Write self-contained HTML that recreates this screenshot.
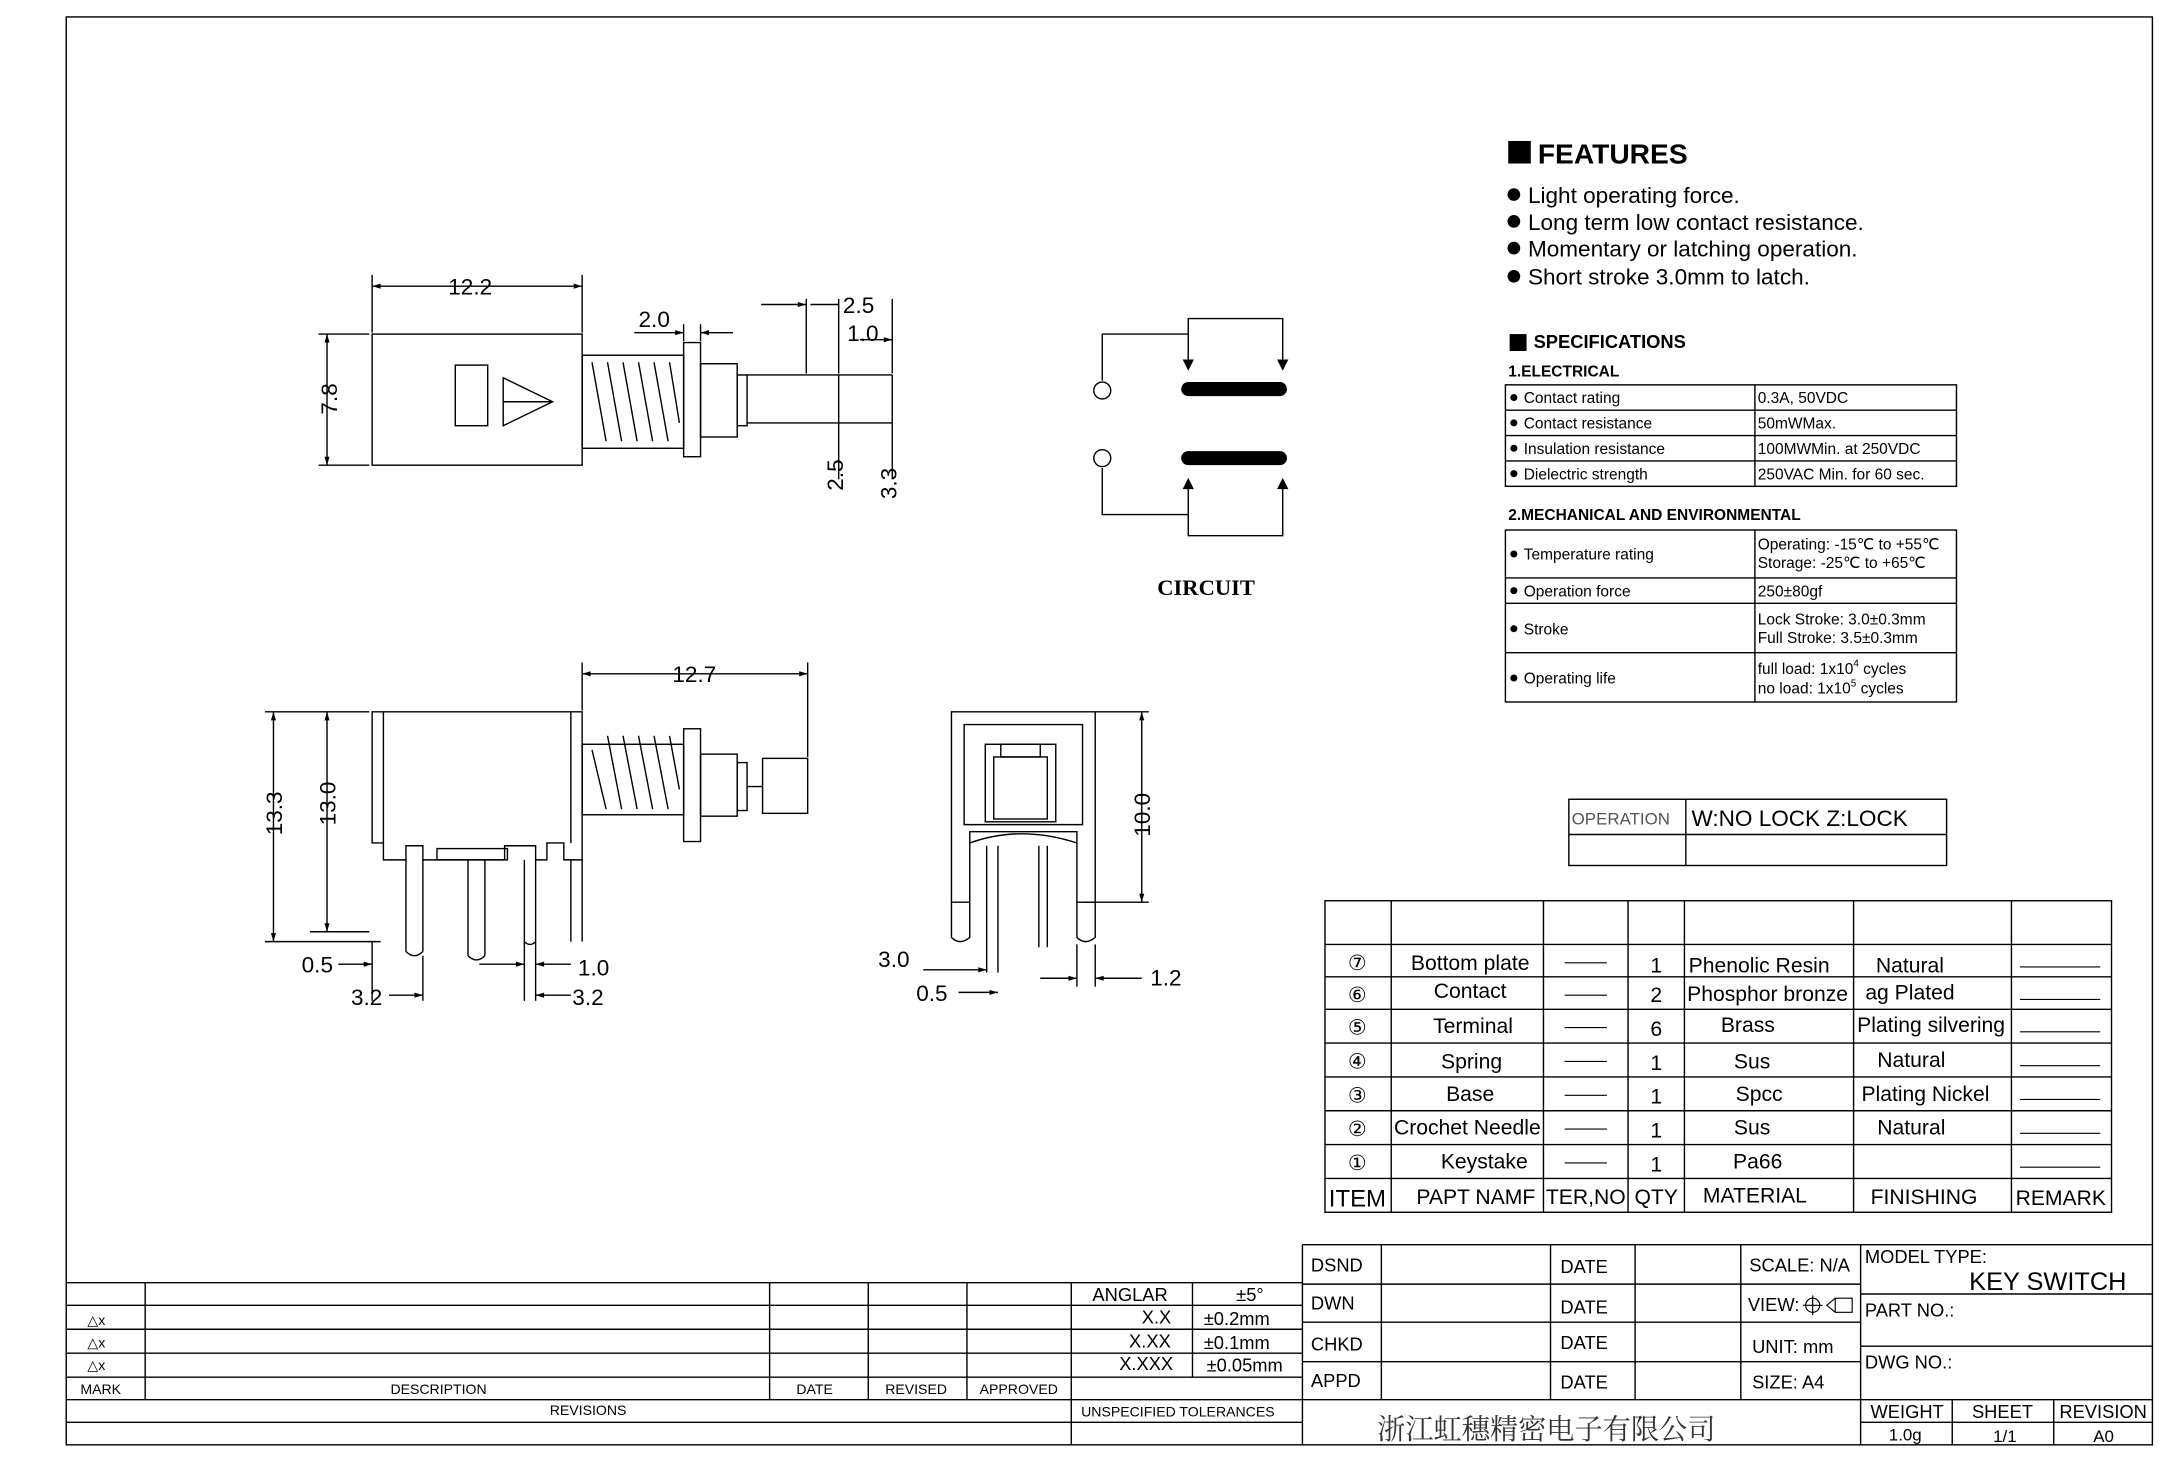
<!DOCTYPE html>
<html><head><meta charset="utf-8"><style>
html,body{margin:0;padding:0;background:#fff;}
svg{display:block;}
text{font-family:"Liberation Sans",sans-serif;fill:#000;}
</style></head><body>
<svg width="2182" height="1466" viewBox="0 0 1548 1040" xmlns="http://www.w3.org/2000/svg">
<defs>
<marker id="a" viewBox="0 0 10 10" refX="10" refY="5" markerWidth="8" markerHeight="6" orient="auto-start-reverse"><path d="M0,2 L10,5 L0,8z" fill="#000"/></marker>
</defs>
<rect x="0" y="0" width="1548" height="1040" fill="#fff"/>
<rect x="47" y="12" width="1480" height="1013" fill="none" stroke="#000" stroke-width="1"/>

<!-- FEATURES -->
<rect x="1070" y="100" width="16" height="16" fill="#000"/>
<text x="1091" y="116" font-size="20" font-weight="bold">FEATURES</text>
<g font-size="16">
<circle cx="1074" cy="138" r="4.5"/><text x="1084" y="144">Light operating force.</text>
<circle cx="1074" cy="157" r="4.5"/><text x="1084" y="163">Long term low contact resistance.</text>
<circle cx="1074" cy="176" r="4.5"/><text x="1084" y="182">Momentary or latching operation.</text>
<circle cx="1074" cy="196" r="4.5"/><text x="1084" y="202">Short stroke 3.0mm to latch.</text>
</g>
<rect x="1071" y="237" width="12" height="12" fill="#000"/>
<text x="1088" y="247" font-size="13" font-weight="bold">SPECIFICATIONS</text>
<text x="1070" y="267" font-size="11" font-weight="bold">1.ELECTRICAL</text>
<g fill="none" stroke="#000" stroke-width="1">
<rect x="1068" y="273" width="320" height="72"/>
<line x1="1068" y1="291" x2="1388" y2="291"/><line x1="1068" y1="309" x2="1388" y2="309"/><line x1="1068" y1="327" x2="1388" y2="327"/>
<line x1="1245" y1="273" x2="1245" y2="345"/>
<rect x="1068" y="376" width="320" height="122"/>
<line x1="1068" y1="410" x2="1388" y2="410"/><line x1="1068" y1="428" x2="1388" y2="428"/><line x1="1068" y1="463" x2="1388" y2="463"/>
<line x1="1245" y1="376" x2="1245" y2="498"/>
</g>
<g font-size="11">
<circle cx="1074" cy="282" r="2.5"/><text x="1081" y="286">Contact rating</text><text x="1247" y="286">0.3A, 50VDC</text>
<circle cx="1074" cy="300" r="2.5"/><text x="1081" y="304">Contact resistance</text><text x="1247" y="304">50mWMax.</text>
<circle cx="1074" cy="318" r="2.5"/><text x="1081" y="322">Insulation resistance</text><text x="1247" y="322">100MWMin. at 250VDC</text>
<circle cx="1074" cy="336" r="2.5"/><text x="1081" y="340">Dielectric strength</text><text x="1247" y="340">250VAC Min. for 60 sec.</text>
</g>
<text x="1070" y="369" font-size="11" font-weight="bold">2.MECHANICAL AND ENVIRONMENTAL</text>
<g font-size="11">
<circle cx="1074" cy="393" r="2.5"/><text x="1081" y="397">Temperature rating</text>
<text x="1247" y="390">Operating: -15℃ to +55℃</text><text x="1247" y="403">Storage: -25℃ to +65℃</text>
<circle cx="1074" cy="419" r="2.5"/><text x="1081" y="423">Operation force</text><text x="1247" y="423">250±80gf</text>
<circle cx="1074" cy="446" r="2.5"/><text x="1081" y="450">Stroke</text>
<text x="1247" y="443">Lock Stroke: 3.0±0.3mm</text><text x="1247" y="456">Full Stroke: 3.5±0.3mm</text>
<circle cx="1074" cy="481" r="2.5"/><text x="1081" y="485">Operating life</text>
<text x="1247" y="478">full load: 1x10<tspan font-size="7" dy="-5">4</tspan><tspan dy="5"> cycles</tspan></text>
<text x="1247" y="492">no load: 1x10<tspan font-size="7" dy="-5">5</tspan><tspan dy="5"> cycles</tspan></text>
</g>

<!-- operation -->
<g fill="none" stroke="#000" stroke-width="1">
<rect x="1113" y="567" width="268" height="47"/>
<line x1="1196" y1="567" x2="1196" y2="614"/><line x1="1113" y1="592" x2="1381" y2="592"/>
</g>
<text x="1115" y="585" font-size="12" fill="#555" style="fill:#555">OPERATION</text>
<text x="1200" y="586" font-size="16">W:NO LOCK Z:LOCK</text>

<!-- parts table -->
<g fill="none" stroke="#000" stroke-width="1">
<rect x="940" y="639" width="558" height="221"/>
<line x1="940" y1="670" x2="1498" y2="670"/><line x1="940" y1="693" x2="1498" y2="693"/><line x1="940" y1="716" x2="1498" y2="716"/>
<line x1="940" y1="740" x2="1498" y2="740"/><line x1="940" y1="764" x2="1498" y2="764"/><line x1="940" y1="788" x2="1498" y2="788"/>
<line x1="940" y1="812" x2="1498" y2="812"/><line x1="940" y1="836" x2="1498" y2="836"/>
<line x1="987" y1="639" x2="987" y2="860"/><line x1="1095" y1="639" x2="1095" y2="860"/><line x1="1155" y1="639" x2="1155" y2="860"/>
<line x1="1195" y1="639" x2="1195" y2="860"/><line x1="1315" y1="639" x2="1315" y2="860"/><line x1="1427" y1="639" x2="1427" y2="860"/>
</g>
<g font-size="15" text-anchor="middle">
<text x="963" y="688">⑦</text><text x="1043" y="688">Bottom plate</text><text x="1175" y="690">1</text><text x="1248" y="690">Phenolic Resin</text><text x="1355" y="690">Natural</text>
<text x="963" y="711">⑥</text><text x="1043" y="708">Contact</text><text x="1175" y="711">2</text><text x="1254" y="710">Phosphor bronze</text><text x="1355" y="709">ag Plated</text>
<text x="963" y="734">⑤</text><text x="1045" y="733">Terminal</text><text x="1175" y="735">6</text><text x="1240" y="732">Brass</text><text x="1370" y="732">Plating silvering</text>
<text x="963" y="758">④</text><text x="1044" y="758">Spring</text><text x="1175" y="759">1</text><text x="1243" y="758">Sus</text><text x="1356" y="757">Natural</text>
<text x="963" y="782">③</text><text x="1043" y="781">Base</text><text x="1175" y="783">1</text><text x="1248" y="781">Spcc</text><text x="1366" y="781">Plating Nickel</text>
<text x="963" y="806">②</text><text x="1041" y="805">Crochet Needle</text><text x="1175" y="807">1</text><text x="1243" y="805">Sus</text><text x="1356" y="805">Natural</text>
<text x="963" y="830">①</text><text x="1053" y="829">Keystake</text><text x="1175" y="831">1</text><text x="1247" y="829">Pa66</text>
<text x="963" y="856" font-size="17">ITEM</text><text x="1047" y="854">PAPT NAMF</text><text x="1125" y="854">TER,NO</text><text x="1175" y="854">QTY</text><text x="1245" y="853">MATERIAL</text><text x="1365" y="854">FINISHING</text><text x="1462" y="855">REMARK</text>
</g>
<g stroke="#000" stroke-width="0.8">
<line x1="1110" y1="683" x2="1140" y2="683"/><line x1="1110" y1="706" x2="1140" y2="706"/><line x1="1110" y1="729" x2="1140" y2="729"/><line x1="1110" y1="753" x2="1140" y2="753"/><line x1="1110" y1="777" x2="1140" y2="777"/><line x1="1110" y1="801" x2="1140" y2="801"/><line x1="1110" y1="825" x2="1140" y2="825"/>
<line x1="1433" y1="686" x2="1490" y2="686"/><line x1="1433" y1="709" x2="1490" y2="709"/><line x1="1433" y1="732" x2="1490" y2="732"/><line x1="1433" y1="756" x2="1490" y2="756"/><line x1="1433" y1="780" x2="1490" y2="780"/><line x1="1433" y1="804" x2="1490" y2="804"/><line x1="1433" y1="828" x2="1490" y2="828"/>
</g>

<!-- revisions block -->
<g fill="none" stroke="#000" stroke-width="1">
<line x1="47" y1="910" x2="924" y2="910"/><line x1="47" y1="926" x2="924" y2="926"/><line x1="47" y1="943" x2="924" y2="943"/>
<line x1="47" y1="960" x2="924" y2="960"/><line x1="47" y1="977" x2="924" y2="977"/><line x1="47" y1="993" x2="924" y2="993"/><line x1="47" y1="1009" x2="924" y2="1009"/>
<line x1="103" y1="910" x2="103" y2="993"/><line x1="546" y1="910" x2="546" y2="993"/><line x1="616" y1="910" x2="616" y2="993"/>
<line x1="686" y1="910" x2="686" y2="993"/><line x1="760" y1="910" x2="760" y2="1025"/><line x1="846" y1="910" x2="846" y2="977"/>
<line x1="924" y1="883" x2="924" y2="1025"/>
</g>
<g font-size="10">
<text x="62" y="940">△x</text><text x="62" y="956">△x</text><text x="62" y="972">△x</text>
<text x="57" y="989">MARK</text><text x="277" y="989">DESCRIPTION</text><text x="565" y="989">DATE</text><text x="628" y="989">REVISED</text><text x="695" y="989">APPROVED</text>
<text x="390" y="1004">REVISIONS</text><text x="767" y="1005">UNSPECIFIED TOLERANCES</text>
</g>
<g font-size="13">
<text x="775" y="923">ANGLAR</text><text x="877" y="923">±5°</text>
<text x="810" y="939">X.X</text><text x="854" y="940">±0.2mm</text>
<text x="801" y="956">X.XX</text><text x="854" y="957">±0.1mm</text>
<text x="794" y="972">X.XXX</text><text x="856" y="973">±0.05mm</text>
</g>

<!-- title block -->
<g fill="none" stroke="#000" stroke-width="1">
<line x1="924" y1="883" x2="1527" y2="883"/><line x1="924" y1="911" x2="1320" y2="911"/><line x1="924" y1="938" x2="1320" y2="938"/>
<line x1="924" y1="966" x2="1320" y2="966"/><line x1="924" y1="993" x2="1527" y2="993"/>
<line x1="1320" y1="918" x2="1527" y2="918"/><line x1="1320" y1="955" x2="1527" y2="955"/><line x1="1320" y1="1009" x2="1527" y2="1009"/>
<line x1="980" y1="883" x2="980" y2="993"/><line x1="1100" y1="883" x2="1100" y2="993"/><line x1="1160" y1="883" x2="1160" y2="993"/>
<line x1="1235" y1="883" x2="1235" y2="993"/><line x1="1320" y1="883" x2="1320" y2="1025"/>
<line x1="1385" y1="993" x2="1385" y2="1025"/><line x1="1457" y1="993" x2="1457" y2="1025"/>
</g>
<g font-size="13">
<text x="930" y="902">DSND</text><text x="1107" y="903">DATE</text><text x="1241" y="902">SCALE: N/A</text>
<text x="930" y="929">DWN</text><text x="1107" y="932">DATE</text><text x="1240" y="930">VIEW:</text>
<text x="930" y="958">CHKD</text><text x="1107" y="957">DATE</text><text x="1243" y="960">UNIT: mm</text>
<text x="930" y="984">APPD</text><text x="1107" y="985">DATE</text><text x="1243" y="985">SIZE: A4</text>
<text x="1323" y="896">MODEL TYPE:</text><text x="1397" y="915" font-size="18">KEY SWITCH</text>
<text x="1323" y="934">PART NO.:</text><text x="1323" y="971">DWG NO.:</text>
<text x="1327" y="1006">WEIGHT</text><text x="1399" y="1006">SHEET</text><text x="1461" y="1006">REVISION</text>
<text x="1340" y="1022" font-size="12">1.0g</text><text x="1414" y="1023" font-size="12">1/1</text><text x="1485" y="1023" font-size="12">A0</text>
</g>
<text x="977" y="1021" font-size="20" style="font-family:'Liberation Sans','Noto Serif CJK SC','Noto Sans CJK SC',serif;fill:#333">浙江虹穗精密电子有限公司</text>
<g fill="none" stroke="#000" stroke-width="0.8">
<circle cx="1286" cy="926" r="5"/><line x1="1279" y1="926" x2="1293" y2="926"/><line x1="1286" y1="919" x2="1286" y2="933"/>
<path d="M1296,926 l6,-5 h12 v10 h-12z"/><line x1="1302" y1="921" x2="1302" y2="931"/>
</g>

<!-- top view drawing -->
<g fill="none" stroke="#000" stroke-width="1">
<rect x="264" y="237" width="149" height="93"/>
<rect x="323" y="259" width="23" height="43"/>
<path d="M357,268 L392,285 L357,302z M357,285 L392,285"/>
<rect x="413" y="252" width="72" height="66"/>
<path d="M420,257 L430,313 M431,257 L441,313 M442,257 L452,313 M453,257 L463,313 M464,257 L474,313 M475,257 L482,300"/>
<rect x="485" y="243" width="12" height="81"/>
<rect x="497" y="258" width="26" height="52"/>
<rect x="523" y="266" width="7" height="36"/>
<line x1="530" y1="266" x2="633" y2="266"/><line x1="530" y1="300" x2="633" y2="300"/>
<line x1="264" y1="195" x2="264" y2="236"/><line x1="413" y1="195" x2="413" y2="236"/>
<line x1="264" y1="203" x2="413" y2="203" marker-start="url(#a)" marker-end="url(#a)"/>
<line x1="226" y1="237" x2="262" y2="237"/><line x1="226" y1="330" x2="262" y2="330"/>
<line x1="232" y1="237" x2="232" y2="330" marker-start="url(#a)" marker-end="url(#a)"/>
<line x1="485" y1="230" x2="485" y2="242"/><line x1="497" y1="230" x2="497" y2="242"/>
<line x1="450" y1="236" x2="485" y2="236" marker-end="url(#a)"/><line x1="520" y1="236" x2="497" y2="236" marker-end="url(#a)"/>
<line x1="572" y1="212" x2="572" y2="265"/><line x1="595" y1="212" x2="595" y2="265"/><line x1="633" y1="212" x2="633" y2="265"/>
<line x1="540" y1="216" x2="572" y2="216" marker-end="url(#a)"/><line x1="595" y1="216" x2="575" y2="216"/>
<line x1="610" y1="241" x2="633" y2="241" marker-end="url(#a)"/>
<line x1="595" y1="300" x2="595" y2="340"/><line x1="633" y1="300" x2="633" y2="340"/>
<path d="M595,300 V266 M633,300 V266" stroke-dasharray="0"/>
</g>
<text x="318" y="209" font-size="16">12.2</text>
<text x="453" y="232" font-size="16">2.0</text>
<text x="598" y="222" font-size="16">2.5</text>
<text x="601" y="242" font-size="16">1.0</text>
<text transform="translate(239,283) rotate(-90)" font-size="16" text-anchor="middle">7.8</text>
<text transform="translate(598,337) rotate(-90)" font-size="16" text-anchor="middle">2.5</text>
<text transform="translate(636,343) rotate(-90)" font-size="16" text-anchor="middle">3.3</text>

<!-- circuit -->
<g fill="none" stroke="#000" stroke-width="1">
<circle cx="782" cy="277" r="6"/><circle cx="782" cy="325" r="6"/>
<path d="M782,270 V237 H843"/><path d="M843,260 V226 H910 V260"/>
<path d="M782,332 V365 H843"/><path d="M843,342 V380 H910 V342"/>
</g>
<line x1="843" y1="276" x2="908" y2="276" stroke="#000" stroke-width="10" stroke-linecap="round"/>
<line x1="843" y1="325" x2="908" y2="325" stroke="#000" stroke-width="10" stroke-linecap="round"/>
<g fill="#000"><path d="M839,255 h8 l-4,8z"/><path d="M906,255 h8 l-4,8z"/><path d="M839,347 h8 l-4,-8z"/><path d="M906,347 h8 l-4,-8z"/></g>
<text x="821" y="422" font-size="16" font-weight="bold" style="font-family:'Liberation Serif',serif">CIRCUIT</text>

<!-- front view -->
<g fill="none" stroke="#000" stroke-width="1">
<path d="M264,505 H413 V610 H400 V598 H388 V610 H380 V600 H358 V610 H300 V600 H288 V610 H272 V598 H264z"/>
<line x1="272" y1="505" x2="272" y2="598"/><line x1="405" y1="505" x2="405" y2="598"/>
<rect x="310" y="602" width="50" height="8"/>
<path d="M288,610 V675 M300,610 V675 M288,675 Q294,681 300,675"/>
<path d="M332,610 V678 M344,610 V678 M332,678 Q338,684 344,678"/>
<path d="M372,610 V668 M380,610 V668 M372,668 Q376,672 380,668"/>
<path d="M405,610 V668 M413,610 V668"/>
<rect x="413" y="528" width="72" height="50"/>
<path d="M420,532 L430,574 M431,522 L441,574 M442,522 L452,574 M453,522 L463,574 M464,522 L474,574 M475,522 L482,560"/>
<rect x="485" y="517" width="12" height="80"/>
<rect x="497" y="535" width="26" height="44"/>
<rect x="523" y="541" width="7" height="34"/>
<rect x="541" y="538" width="32" height="39"/>
<line x1="530" y1="558" x2="541" y2="558"/>
<line x1="413" y1="470" x2="413" y2="504"/><line x1="573" y1="470" x2="573" y2="537"/>
<line x1="413" y1="478" x2="573" y2="478" marker-start="url(#a)" marker-end="url(#a)"/>
<line x1="188" y1="505" x2="262" y2="505"/><line x1="188" y1="668" x2="270" y2="668"/><line x1="220" y1="661" x2="262" y2="661"/>
<line x1="194" y1="505" x2="194" y2="668" marker-start="url(#a)" marker-end="url(#a)"/>
<line x1="232" y1="505" x2="232" y2="661" marker-start="url(#a)" marker-end="url(#a)"/>
<line x1="264" y1="668" x2="264" y2="710"/><line x1="300" y1="678" x2="300" y2="710"/><line x1="372" y1="668" x2="372" y2="710"/><line x1="380" y1="668" x2="380" y2="710"/>
<line x1="240" y1="684" x2="264" y2="684" marker-end="url(#a)"/>
<line x1="276" y1="706" x2="300" y2="706" marker-end="url(#a)"/><line x1="340" y1="684" x2="372" y2="684" marker-end="url(#a)"/>
<line x1="405" y1="684" x2="380" y2="684" marker-end="url(#a)"/>
<line x1="405" y1="706" x2="380" y2="706" marker-end="url(#a)"/>
</g>
<text x="477" y="484" font-size="16">12.7</text>
<text transform="translate(200,577) rotate(-90)" font-size="16" text-anchor="middle">13.3</text>
<text transform="translate(238,570) rotate(-90)" font-size="16" text-anchor="middle">13.0</text>
<text x="214" y="690" font-size="16">0.5</text>
<text x="410" y="692" font-size="16">1.0</text>
<text x="249" y="713" font-size="16">3.2</text>
<text x="406" y="713" font-size="16">3.2</text>

<!-- side view -->
<g fill="none" stroke="#000" stroke-width="1">
<path d="M675,505 H777 V640 H764 V590 H688 V640 H675z"/>
<path d="M684,514 H768 V585 H684z"/>
<rect x="699" y="528" width="50" height="55"/>
<rect x="705" y="537" width="38" height="44"/>
<rect x="710" y="528" width="28" height="9"/>
<path d="M688,598 Q724,585 764,598"/>
<path d="M675,640 V665 Q681,671 688,665 V640"/>
<path d="M764,640 V665 Q770,671 777,665 V640"/>
<path d="M700,600 V690 M708,600 V690 M737,600 V672 M743,600 V672"/>
<line x1="777" y1="505" x2="815" y2="505"/><line x1="768" y1="640" x2="815" y2="640"/>
<line x1="810" y1="505" x2="810" y2="640" marker-start="url(#a)" marker-end="url(#a)"/>
<line x1="655" y1="688" x2="700" y2="688" marker-end="url(#a)"/>
<line x1="680" y1="704" x2="708" y2="704" marker-end="url(#a)"/>
<line x1="738" y1="694" x2="764" y2="694" marker-end="url(#a)"/><line x1="810" y1="694" x2="777" y2="694" marker-end="url(#a)"/>
<line x1="764" y1="670" x2="764" y2="700"/><line x1="777" y1="670" x2="777" y2="700"/>
</g>
<text transform="translate(816,578) rotate(-90)" font-size="16" text-anchor="middle">10.0</text>
<text x="623" y="686" font-size="16">3.0</text>
<text x="650" y="710" font-size="16">0.5</text>
<text x="816" y="699" font-size="16">1.2</text>
</svg>
</body></html>
